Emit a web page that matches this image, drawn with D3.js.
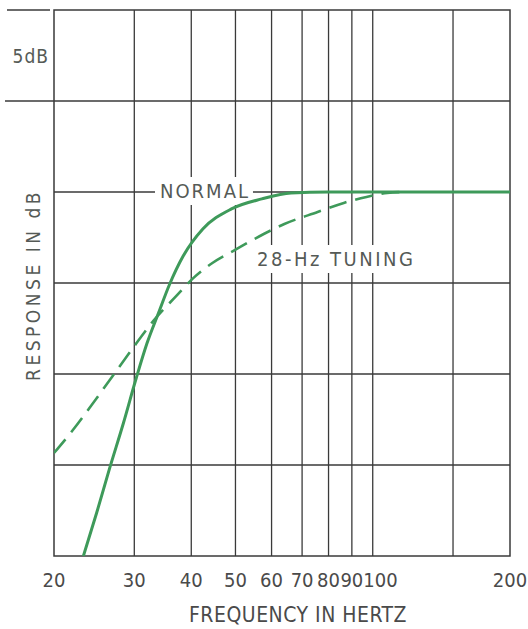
<!DOCTYPE html>
<html>
<head>
<meta charset="utf-8">
<script src="https://cdn.jsdelivr.net/npm/d3@7"></script>
<style>
  html, body { margin: 0; padding: 0; background: #ffffff; }
  svg { display: block; }
  text { font-family: "DejaVu Sans Condensed", "DejaVu Sans", sans-serif; }
</style>
</head>
<body>
<svg id="chart" width="528" height="629"></svg>
<script>
// Frequency axis (Hz) and response axis (dB)
const freqTickLabels = [20, 30, 40, 50, 60, 70, 80, 90, 100, 200];
const freqGridLines = [30, 40, 50, 60, 70, 80, 90, 100, 150];
const dbGridLines = [-15, -10, -5, 0, 5];

// Normal (sealed) response
const normalFreq = [23.2, 24.8, 26.5, 28.4, 30.3, 32.0, 33.9, 35.8, 38.4, 42.4, 49.0, 57.1, 66.2, 80, 200];
const normalDb   = [-20, -17.64, -15.16, -12.69, -10.22, -8.30, -6.65, -5.11, -3.52, -2.03, -0.93, -0.38, -0.05, 0, 0];

// Response with 28-Hz tuning
const tuningFreq = [20, 22.0, 24.1, 26.8, 29.8, 33.0, 37.1, 40.4, 44.5, 49.8, 55.5, 64.0, 75.7, 86.4, 96.9, 107.6, 116.9];
const tuningDb   = [-14.34, -13.08, -11.76, -10.16, -8.57, -7.09, -5.71, -4.73, -3.90, -3.19, -2.53, -1.76, -1.10, -0.60, -0.27, -0.05, 0];

const svg = d3.select("#chart");
const plotLeft = 54, plotRight = 510, plotTop = 10, plotBottom = 556;

const x = d3.scaleLog().domain([20, 200]).range([plotLeft, plotRight]);
const y = d3.scaleLinear().domain([-20, 10]).range([plotBottom, plotTop]);

const gridColor = "#3a3a3a";
const green = "#3e9a5a";
const labelColor = "#555a56";

svg.append("rect").attr("width", 528).attr("height", 629).attr("fill", "#ffffff");

const grid = svg.append("g");
// horizontal grid lines
grid.selectAll("line.h").data(dbGridLines).join("line")
  .attr("class", "h")
  .attr("x1", d => d === 5 ? 5 : plotLeft).attr("x2", plotRight)
  .attr("y1", d => y(d)).attr("y2", d => y(d))
  .attr("stroke", gridColor).attr("stroke-width", 1.3);
// vertical grid lines
grid.selectAll("line.v").data(freqGridLines).join("line")
  .attr("class", "v")
  .attr("x1", d => x(d)).attr("x2", d => x(d))
  .attr("y1", plotTop).attr("y2", plotBottom)
  .attr("stroke", gridColor).attr("stroke-width", 1.3);
// frame
grid.append("rect")
  .attr("x", plotLeft).attr("y", plotTop)
  .attr("width", plotRight - plotLeft).attr("height", plotBottom - plotTop)
  .attr("fill", "none").attr("stroke", gridColor).attr("stroke-width", 1.5);
// scale bar marker at +10 dB on the left
grid.append("line")
  .attr("x1", 7).attr("x2", 50)
  .attr("y1", y(10)).attr("y2", y(10))
  .attr("stroke", gridColor).attr("stroke-width", 1.3);

// "5dB" scale-bar label
svg.append("text")
  .attr("x", 49).attr("y", (y(10) + y(5)) / 2 + 7)
  .attr("text-anchor", "end")
  .attr("font-size", 19).attr("letter-spacing", 1)
  .attr("fill", labelColor)
  .text("5dB");

// Curve annotations with white knock-out backgrounds
function annotate(txt, tx, ty, spacing) {
  const g = svg.append("g");
  const bg = g.append("rect").attr("fill", "#ffffff");
  const t = g.append("text")
    .attr("x", tx).attr("y", ty)
    .attr("font-size", 20).attr("letter-spacing", spacing)
    .attr("fill", labelColor)
    .text(txt);
  const b = t.node().getBBox();
  bg.attr("x", b.x - 5).attr("y", b.y - 2).attr("width", b.width + 8).attr("height", b.height + 4);
}
annotate("NORMAL", 160, y(0) + 6, 2);
annotate("28-Hz TUNING", 257, 266, 2.5);

// Frequency tick labels, nudged apart where they would collide
const tickG = svg.append("g");
const tickTexts = tickG.selectAll("text").data(freqTickLabels).join("text")
  .attr("x", d => x(d)).attr("y", 587)
  .attr("text-anchor", "middle")
  .attr("font-size", 20)
  .attr("fill", "#4a4a4a")
  .text(d => d);
let prevRight = -Infinity;
tickTexts.each(function () {
  const b = this.getBBox();
  let shift = 0;
  if (b.x < prevRight) shift = prevRight - b.x;
  if (shift) d3.select(this).attr("x", +d3.select(this).attr("x") + shift);
  prevRight = b.x + shift + b.width;
});

// Axis titles
svg.append("text")
  .attr("x", 298).attr("y", 622)
  .attr("text-anchor", "middle")
  .attr("font-size", 21).attr("letter-spacing", 0.5)
  .attr("fill", "#4a4a4a")
  .text("FREQUENCY IN HERTZ");

svg.append("text")
  .attr("transform", `translate(40,285) rotate(-90)`)
  .attr("text-anchor", "middle")
  .attr("font-size", 19).attr("letter-spacing", 3.5)
  .attr("fill", labelColor)
  .text("RESPONSE IN dB");

// Response curves
const line = d3.line()
  .x(d => x(d[0])).y(d => y(d[1]))
  .curve(d3.curveMonotoneX);

svg.append("defs").append("clipPath").attr("id", "plotClip")
  .append("rect").attr("x", plotLeft).attr("y", plotTop - 2)
  .attr("width", plotRight - plotLeft).attr("height", plotBottom - plotTop + 2);

svg.append("path")
  .datum(d3.zip(tuningFreq, tuningDb))
  .attr("d", line)
  .attr("fill", "none")
  .attr("stroke", green).attr("stroke-width", 2.6)
  .attr("stroke-dasharray", "18,9")
  .attr("clip-path", "url(#plotClip)");

svg.append("path")
  .datum(d3.zip(normalFreq, normalDb))
  .attr("d", line)
  .attr("fill", "none")
  .attr("stroke", green).attr("stroke-width", 3)
  .attr("clip-path", "url(#plotClip)");
</script>
</body>
</html>
